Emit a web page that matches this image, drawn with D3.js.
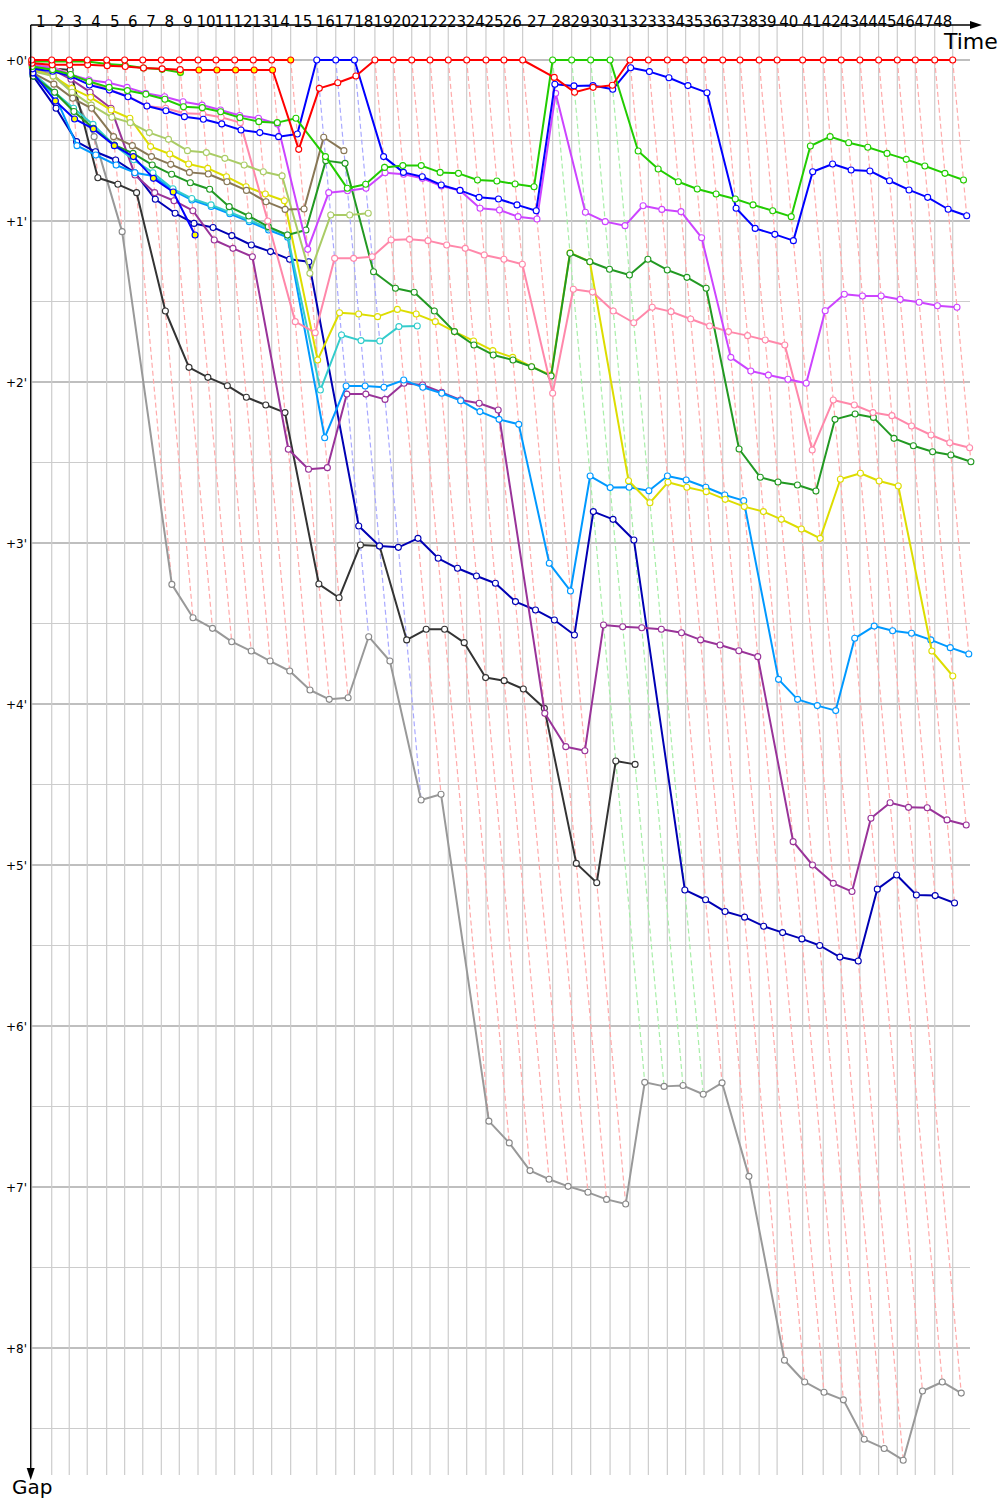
<!DOCTYPE html>
<html><head><meta charset="utf-8">
<script src="https://cdn.jsdelivr.net/npm/d3@7"></script>
<style>body{margin:0;background:#fff}svg{display:block}</style>
</head><body>
<svg id="c" width="1000" height="1500"></svg>
<script>
// ---------- DATA ----------
const N = 49;
const lapLabels = d3.range(1, 49).map(String);
// reference (leader) elapsed time at each lap line, minutes
const refTime = [0,1.38,2.59,3.83,5.17,6.41,7.66,8.94,10.18,11.47,12.71,14.0,15.28,16.55,17.86,19.66,20.97,22.26,23.67,24.94,26.21,27.47,28.73,30.0,31.33,32.57,33.86,35.93,37.24,38.55,39.89,41.26,42.53,43.84,45.10,46.37,47.66,48.85,50.17,51.41,53.17,54.59,55.83,57.12,58.41,59.70,60.94,62.28,63.52];
const gapTicks = [0,1,2,3,4,5,6,7,8];

// gaps (minutes) per lap line, null = not running
const red1 = [0,0,0,0,0,0,0,0,0,0,0,0,0,0,0];
const red2 = [0.02,0.03,0.03,0.03,0.035,0.04,0.05,0.055,0.06,0.062,0.062,0.062,0.062,0.062,0.555,0.176,0.141,0.099,0,0,0,0,0,0,0,0,0,0.108,0.2,0.17,0.157,0,0,0,0,0,0,0,0,0,0,0,0,0,0,0,0,0,0];
const greenTop = [0.01,0.01,0.01,0.01,0.025,0.033,0.05,0.058,0.077];
const lime = [0.04,0.06,0.09,0.134,0.17,0.19,0.213,0.244,0.29,0.296,0.321,0.358,0.383,0.389,0.362,0.6,0.797,0.772,0.667,0.656,0.656,0.698,0.704,0.745,0.752,0.77,0.787,0,0,0,0,0.565,0.677,0.756,0.801,0.832,0.863,0.9,0.936,0.973,0.534,0.476,0.514,0.542,0.58,0.617,0.658,0.704,0.745];
const blue = [0.055,0.07,0.1,0.155,0.186,0.228,0.286,0.315,0.352,0.368,0.397,0.435,0.451,0.476,0.46,0,0,0,0.6,0.698,0.725,0.776,0.81,0.853,0.863,0.9,0.936,0.151,0.161,0.159,0.182,0.048,0.072,0.11,0.159,0.203,0.921,1.046,1.083,1.122,0.694,0.646,0.683,0.689,0.75,0.807,0.853,0.927,0.967];
const violet = [0.03,0.05,0.09,0.124,0.141,0.17,0.207,0.228,0.259,0.28,0.311,0.345,0.362,0.398,1.176,0.824,0.812,0.797,0.7,0.71,0.735,0.783,0.81,0.921,0.932,0.973,0.988,0.207,0.946,1.004,1.029,0.905,0.928,0.942,1.104,1.847,1.932,1.957,1.983,2.008,1.557,1.455,1.466,1.466,1.487,1.505,1.526,1.536,null];
const pink = [0.02,0.041,0.09,0.134,0.186,0.224,0.286,0.3,0.331,0.335,0.356,0.389,1.0,1.625,1.694,1.232,1.232,1.222,1.118,1.114,1.122,1.149,1.17,1.211,1.238,1.269,2.07,1.424,1.441,1.559,1.632,1.536,1.563,1.609,1.652,1.687,1.712,1.739,1.77,2.422,2.112,2.143,2.19,2.209,2.273,2.329,2.377,2.408,null];
const darkGreen = [0.1,0.2,0.32,0.424,0.528,0.58,0.652,0.71,0.762,0.803,0.911,0.969,1.035,1.087,1.056,0.625,0.642,1.315,1.418,1.443,1.559,1.687,1.77,1.832,1.863,1.905,1.963,1.2,1.253,1.3,1.335,1.238,1.304,1.35,1.418,2.416,2.592,2.621,2.64,2.677,2.232,2.199,2.22,2.35,2.396,2.433,2.453,2.495,null];
const yellow = [0.06,0.1,0.176,0.232,0.311,0.362,0.538,0.584,0.646,0.673,0.725,0.787,0.832,0.874,1.863,1.57,1.578,1.594,1.549,1.578,1.625,1.687,1.745,1.805,1.847,1.905,1.957,1.197,1.253,2.613,2.75,2.623,2.654,2.681,2.729,2.774,2.805,2.853,2.913,2.971,2.604,2.567,2.615,2.646,3.671,3.826];
const olive = [0.08,0.15,0.238,0.3,0.476,0.532,0.6,0.648,0.698,0.708,0.756,0.81,0.88,0.928,0.925,0.48,0.563];
const lightGreen = [0.07,0.1,0.2,0.28,0.356,0.389,0.451,0.493,0.563,0.575,0.611,0.652,0.694,0.72,1.325,0.963,0.963,0.952];
const lightBlue = [0.09,0.22,0.532,0.59,0.652,0.7,0.72,0.81,0.87,0.91,0.955,1.004,1.056,1.101,2.346,2.025,2.025,2.033,1.988,2.033,2.07,2.116,2.184,2.232,2.263,3.126,3.298,2.584,2.656,2.654,2.675,2.584,2.609,2.654,2.702,2.737,3.847,3.971,4.01,4.041,3.592,3.516,3.545,3.561,3.602,3.65,3.689];
const cyan = [0.08,0.2,0.3,0.4,0.53,0.62,0.7,0.8,0.86,0.9,0.945,0.994,1.044,1.087,2.05,1.708,1.743,1.745,1.656,1.652];
const navy = [0.1,0.3,0.507,0.57,0.621,0.7,0.865,0.952,1.015,1.04,1.091,1.149,1.19,1.238,1.253,2.894,3.019,3.027,2.971,3.095,3.157,3.205,3.25,3.364,3.416,3.478,3.571,2.805,2.853,2.981,5.155,5.216,5.289,5.324,5.38,5.42,5.459,5.5,5.572,5.596,5.15,5.062,5.186,5.19,5.236];
const purple = [0.03,0.06,0.12,0.2,0.3,0.714,0.824,0.874,0.936,1.118,1.17,1.222,2.418,2.542,2.532,2.075,2.075,2.108,2.008,2.019,2.064,2.112,2.132,2.174,4.058,4.265,4.29,3.509,3.52,3.526,3.536,3.557,3.602,3.634,3.669,3.706,4.855,5.0,5.114,5.165,4.71,4.613,4.642,4.644,4.72,4.752];
const blueY = [0.08,0.255,0.366,0.428,0.532,0.6,0.735,0.82,1.087];
const black = [0.05,0.052,0.062,0.731,0.772,0.824,1.559,1.909,1.971,2.023,2.095,2.143,2.19,3.255,3.34,3.012,3.019,3.602,3.536,3.536,3.619,3.836,3.855,3.907,4.027,4.99,5.11,4.354,4.375];
const gray = [0.05,0.09,0.2,0.476,1.066,3.257,3.464,3.53,3.613,3.671,3.733,3.795,3.913,3.971,3.961,3.582,3.733,4.596,4.561,6.591,6.726,6.898,6.952,6.996,7.033,7.077,7.106,6.35,6.375,6.37,6.424,6.353,6.934,8.076,8.211,8.275,8.322,8.567,8.624,8.697,8.267,8.211,8.28];

// laps marked with a yellow-filled dot
const red1Yellow = [14];
const red2Yellow = [9,10,11,12,13];
const greenTopYellow = [1,2,3,8];
const blueYYellow = [1,2,3,4,5,6,7,8];

// drawing order (bottom first)
const seriesList = [
  {name:"gray", color:"#999999", dot:"#888888", data:gray, yl:[]},
  {name:"black", color:"#333333", dot:"#333333", data:black, yl:[]},
  {name:"navy", color:"#0000b4", dot:"#0000b4", data:navy, yl:[]},
  {name:"purple", color:"#993399", dot:"#993399", data:purple, yl:[]},
  {name:"lightBlue", color:"#0099ff", dot:"#0099ff", data:lightBlue, yl:[]},
  {name:"cyan", color:"#33cccc", dot:"#33cccc", data:cyan, yl:[]},
  {name:"yellow", color:"#dddd00", dot:"#dddd00", data:yellow, yl:[]},
  {name:"darkGreen", color:"#229922", dot:"#229922", data:darkGreen, yl:[]},
  {name:"pink", color:"#ff88aa", dot:"#ff88aa", data:pink, yl:[]},
  {name:"lightGreen", color:"#aacc66", dot:"#aacc66", data:lightGreen, yl:[]},
  {name:"olive", color:"#887755", dot:"#887755", data:olive, yl:[]},
  {name:"blueY", color:"#0000ff", dot:"#0000ff", data:blueY, yl:blueYYellow},
  {name:"violet", color:"#cc44ff", dot:"#cc44ff", data:violet, yl:[]},
  {name:"blue", color:"#0000ff", dot:"#0000ff", data:blue, yl:[]},
  {name:"lime", color:"#22cc00", dot:"#22cc00", data:lime, yl:[]},
  {name:"greenTop", color:"#22cc00", dot:"#22cc00", data:greenTop, yl:greenTopYellow},
  {name:"red2", color:"#ff0000", dot:"#ff0000", data:red2, yl:red2Yellow},
  {name:"red1", color:"#ff0000", dot:"#ff0000", data:red1, yl:red1Yellow}
];

const pad = a => d3.range(N).map(i => (a[i] === undefined ? null : a[i]));
seriesList.forEach(s => s.vals = pad(s.data));

// ---------- SCALES ----------
const x = d3.scaleLinear().domain([0, refTime[N-1]]).range([31.7, 952.7]);
const y = d3.scaleLinear().domain([0, 8]).range([60, 1348]);
const X0 = 30.7, XR = 970, YTOP = 25, YBOT = 1475;

const svg = d3.select("#c");
svg.append("rect").attr("width",1000).attr("height",1500).attr("fill","#fff");

// horizontal grid
const hLines = d3.range(0, 8.51, 0.5);
svg.append("g").selectAll("line").data(hLines).join("line")
  .attr("x1", X0).attr("x2", XR)
  .attr("y1", d => y(d)).attr("y2", d => y(d))
  .attr("stroke", d => Number.isInteger(d) ? "#808080" : "#cccccc")
  .attr("stroke-width", 1.2);

// vertical grid per lap line
svg.append("g").selectAll("line").data(refTime).join("line")
  .attr("x1", d => x(d)).attr("x2", d => x(d))
  .attr("y1", YTOP).attr("y2", YBOT)
  .attr("stroke", "#cccccc").attr("stroke-width", 1.2);

// leader-lap dashed lines
const dashColor = {"#ff0000":"#ffaaaa", "#0000ff":"#a8a8ff", "#22cc00":"#a8eea8"};
const lapLines = refTime.map((t, i) => {
  let leader = seriesList.slice().reverse().find(s => s.vals[i] === 0);
  let maxG = d3.max(seriesList, s => s.vals[i]);
  return {t, g: maxG || 0, c: leader ? dashColor[leader.color] : "#ffaaaa"};
});
svg.append("g").selectAll("line").data(lapLines).join("line")
  .attr("x1", d => x(d.t)).attr("y1", y(0))
  .attr("x2", d => x(d.t + d.g)).attr("y2", d => y(d.g))
  .attr("stroke", d => d.c).attr("stroke-width", 1.2)
  .attr("stroke-dasharray", "5,3");

// y tick labels
svg.append("g").selectAll("text").data(gapTicks).join("text")
  .attr("x", 27).attr("y", d => y(d) + 4.5)
  .attr("text-anchor", "end")
  .attr("font-family", "DejaVu Sans, sans-serif").attr("font-size", 12)
  .text(d => "+" + d + "'");

// series
const line = d3.line().defined(d => d.g != null)
  .x(d => x(refTime[d.i] + d.g)).y(d => y(d.g));
seriesList.forEach(s => {
  const pts = s.vals.map((g, i) => ({i, g}));
  const grp = svg.append("g");
  grp.append("path").attr("d", line(pts)).attr("fill", "none")
    .attr("stroke", s.color).attr("stroke-width", 2).attr("stroke-linejoin", "round");
  grp.selectAll("circle").data(pts.filter(d => d.g != null)).join("circle")
    .attr("cx", d => x(refTime[d.i] + d.g)).attr("cy", d => y(d.g))
    .attr("r", 3)
    .attr("fill", d => s.yl.includes(d.i) ? "#ffff00" : "#ffffff")
    .attr("stroke", s.dot).attr("stroke-width", 1.1);
});

// axes
svg.append("line").attr("x1", X0).attr("x2", 972).attr("y1", YTOP).attr("y2", YTOP)
  .attr("stroke", "#000").attr("stroke-width", 1.3);
svg.append("path").attr("d", `M982,${YTOP} L970,${YTOP-4} L970,${YTOP+4} Z`).attr("fill", "#000");
svg.append("line").attr("x1", X0).attr("x2", X0).attr("y1", YTOP).attr("y2", 1470)
  .attr("stroke", "#000").attr("stroke-width", 1.3);
svg.append("path").attr("d", `M${X0},1480 L${X0-4},1468 L${X0+4},1468 Z`).attr("fill", "#000");

// lap labels (centred on each lap interval)
svg.append("g").selectAll("text").data(lapLabels).join("text")
  .attr("x", (d, k) => x((refTime[k] + refTime[k+1]) / 2) - 1)
  .attr("y", 27).attr("text-anchor", "middle")
  .attr("font-family", "DejaVu Sans, sans-serif").attr("font-size", 15)
  .text(d => d);

svg.append("text").attr("x", 944).attr("y", 49)
  .attr("font-family", "DejaVu Sans, sans-serif").attr("font-size", 22).text("Time");
svg.append("text").attr("x", 12).attr("y", 1494)
  .attr("font-family", "DejaVu Sans, sans-serif").attr("font-size", 20).text("Gap");
</script>
</body></html>
